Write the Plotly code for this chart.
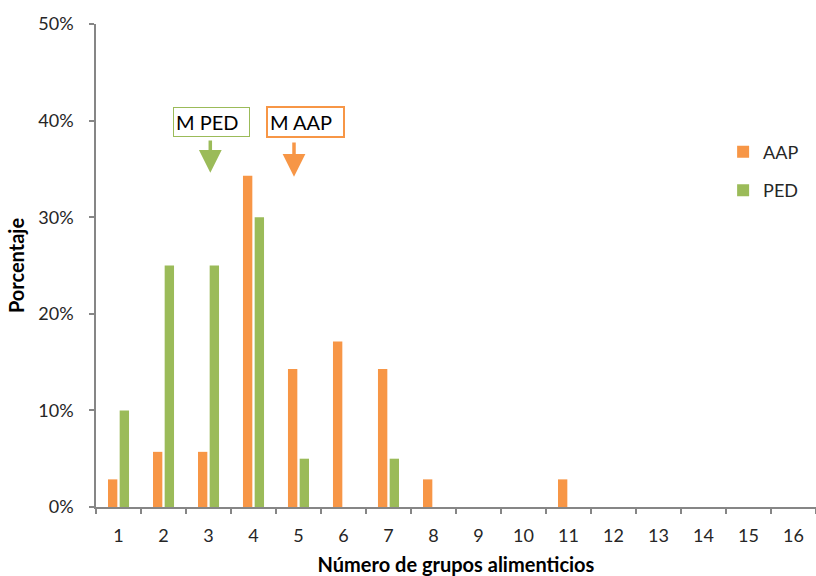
import plotly.graph_objects as go

categories = list(range(1, 17))
tick_labels = [str(c) for c in categories]
aap_values = [0.0286, 0.0571, 0.0571, 0.3429, 0.1429, 0.1714, 0.1429, 0.0286, 0, 0, 0.0286, 0, 0, 0, 0, 0]
ped_values = [0.10, 0.25, 0.25, 0.30, 0.05, 0, 0.05, 0, 0, 0, 0, 0, 0, 0, 0, 0]
series_names = ["AAP", "PED"]
mean_labels = ["M PED", "M AAP"]
mean_positions = [3.04, 4.9]
arrow_start = [0.381, 0.379]
arrow_tip = [0.346, 0.342]

ORANGE = "#F79646"
GREEN = "#9BBB59"
AXIS = "#868686"
FONT = "Lato"

fig = go.Figure()
fig.add_trace(go.Bar(x=categories, y=aap_values, name=series_names[0],
                     marker=dict(color=ORANGE, line=dict(width=0)), legendgroup="a"))
fig.add_trace(go.Bar(x=categories, y=ped_values, name=series_names[1],
                     marker=dict(color=GREEN, line=dict(width=0)), legendgroup="b"))

fig.update_layout(
    width=816, height=576,
    margin=dict(l=96, r=0, t=24, b=69),
    paper_bgcolor="white", plot_bgcolor="white",
    barmode="group", bargap=0.48, bargroupgap=0.2,
    font=dict(family=FONT, size=18, color="#262626"),
    showlegend=True,
    legend=dict(x=0.871, y=0.773, xanchor="left", yanchor="top",
                font=dict(size=18, color="#262626"),
                traceorder="grouped", tracegroupgap=12,
                bgcolor="rgba(0,0,0,0)"),
)

fig.update_xaxes(
    range=[0.5, 16.5], tickmode="array", tickvals=categories, ticktext=tick_labels,
    ticks="", showline=True, linecolor=AXIS, linewidth=1.5, showgrid=False, zeroline=False,
    ticklabelstandoff=12,
    minor=dict(tickmode="linear", tick0=0.5, dtick=1, ticks="outside", ticklen=5,
               tickcolor=AXIS, tickwidth=1.5, showgrid=False),
    title=dict(text="Número de grupos alimenticios", font=dict(size=20, color="black", weight="bold"),
               standoff=14),
)
fig.update_yaxes(
    range=[0, 0.5], tickformat=".0%", dtick=0.1, ticks="outside", ticklen=5,
    tickcolor=AXIS, tickwidth=1.5, showline=True, linecolor=AXIS, linewidth=1.5,
    showgrid=False, zeroline=False, ticklabelstandoff=12,
    title=dict(text="Porcentaje", font=dict(size=20, color="black", weight="bold"), standoff=8),
)

# mean arrows
colors = [GREEN, ORANGE]
for pos, y0, y1, c in zip(mean_positions, arrow_start, arrow_tip, colors):
    fig.add_annotation(x=pos, y=y1, ax=pos, ay=y0, xref="x", yref="y", axref="x", ayref="y",
                       text="", showarrow=True, arrowhead=2, arrowsize=1.3, arrowwidth=3.5,
                       arrowcolor=c)

# mean labels in boxes
box_centers = [211.5, 305.5]
for lab, cx, c, bw in zip(mean_labels, box_centers, colors, [1, 2]):
    fig.add_annotation(x=(cx - 96) / 720, y=0.399, xref="paper", yref="y",
                       xanchor="center", yanchor="middle",
                       text=lab, showarrow=False, font=dict(size=20, color="black"),
                       width=71, height=24, align="left", valign="bottom",
                       bordercolor=c, borderwidth=bw, borderpad=2, bgcolor="white")

fig.write_html("out.html")
